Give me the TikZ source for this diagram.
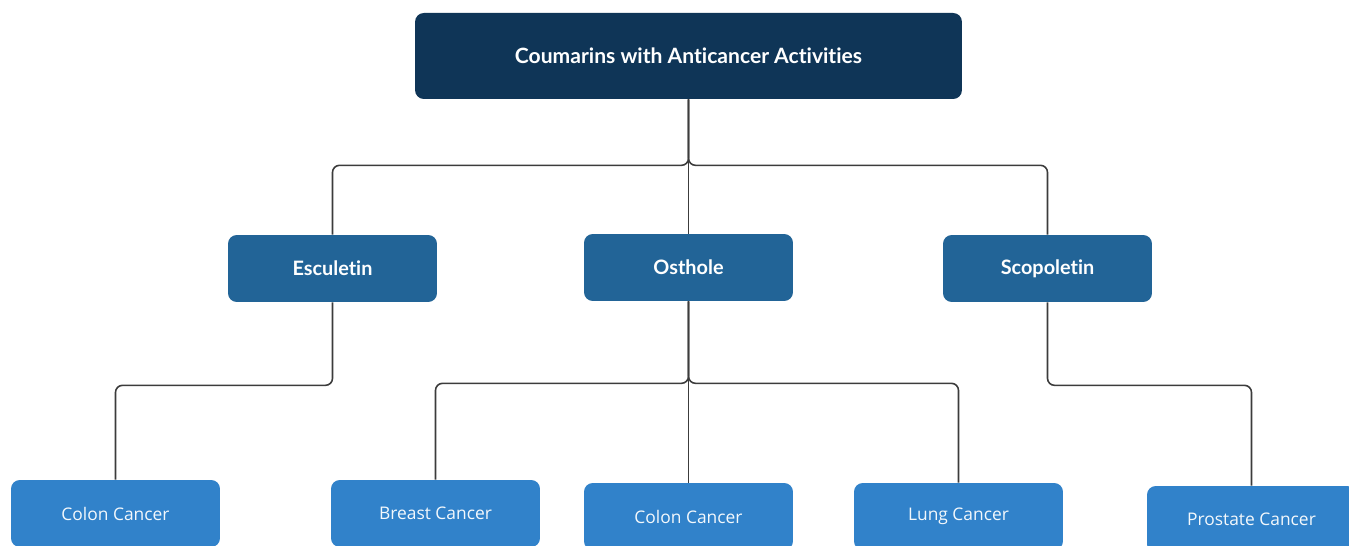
\documentclass[tikz,border=0pt]{standalone}
\usepackage{fontspec}
\setmainfont{Open Sans}
\newfontfamily\headfont[Ligatures=NoCommon]{Lato}
\definecolor{navy}{HTML}{0F3557}
\definecolor{midblue}{HTML}{226497}
\definecolor{leafblue}{HTML}{3182CA}
\definecolor{linegray}{HTML}{3C3C3C}
\begin{document}
\begin{tikzpicture}[
x=0.02cm, y=-0.02cm,
box/.style={rounded corners=5pt, inner sep=0pt, text=white, align=center},
topbox/.style={box, fill=navy, minimum width=10.94cm, minimum height=1.72cm,
    font=\headfont\bfseries\fontsize{12}{14}\selectfont},
midbox/.style={box, fill=midblue, minimum width=4.18cm, minimum height=1.34cm,
    font=\headfont\bfseries\fontsize{11.3}{13}\selectfont},
leafbox/.style={box, fill=leafblue, minimum width=4.18cm, minimum height=1.34cm,
    text=white!94!leafblue, font=\fontsize{9.9}{12}\selectfont},
link/.style={draw=linegray, line width=0.9pt, rounded corners=4pt}
]
\clip (0,0) rectangle (1349,546);
\fill[white] (0,0) rectangle (1349,546);

\node[topbox] (top) at (688.5,56) {Coumarins with Anticancer Activities};

\node[midbox] (esc) at (332.5,268.5) {Esculetin};
\node[midbox] (ost) at (688.5,267.5) {Osthole};
\node[midbox] (sco) at (1047.5,268.5) {Scopoletin};

\node[leafbox] (colonA) at (115.5,513.5) {Colon Cancer};
\node[leafbox] (breast) at (435.5,513.5) {Breast Cancer};
\node[leafbox] (colonB) at (688.5,516.5) {Colon Cancer};
\node[leafbox] (lung) at (958.5,516.5) {Lung Cancer};
\node[leafbox] (prostate) at (1251.5,519.5) {Prostate Cancer};

\draw[link] (top.south) -- ++(0,66) -| (esc.north);
\draw[link] (top.south) -- ++(0,66) -| (sco.north);
\draw[link] (top.south) -- (ost.north);

\draw[link] (esc.south) -- ++(0,83) -| (colonA.north);
\draw[link] (ost.south) -- ++(0,82) -| (breast.north);
\draw[link] (ost.south) -- ++(0,82) -| (lung.north);
\draw[link] (ost.south) -- (colonB.north);
\draw[link] (sco.south) -- ++(0,83) -| (prostate.north);
\end{tikzpicture}
\end{document}
